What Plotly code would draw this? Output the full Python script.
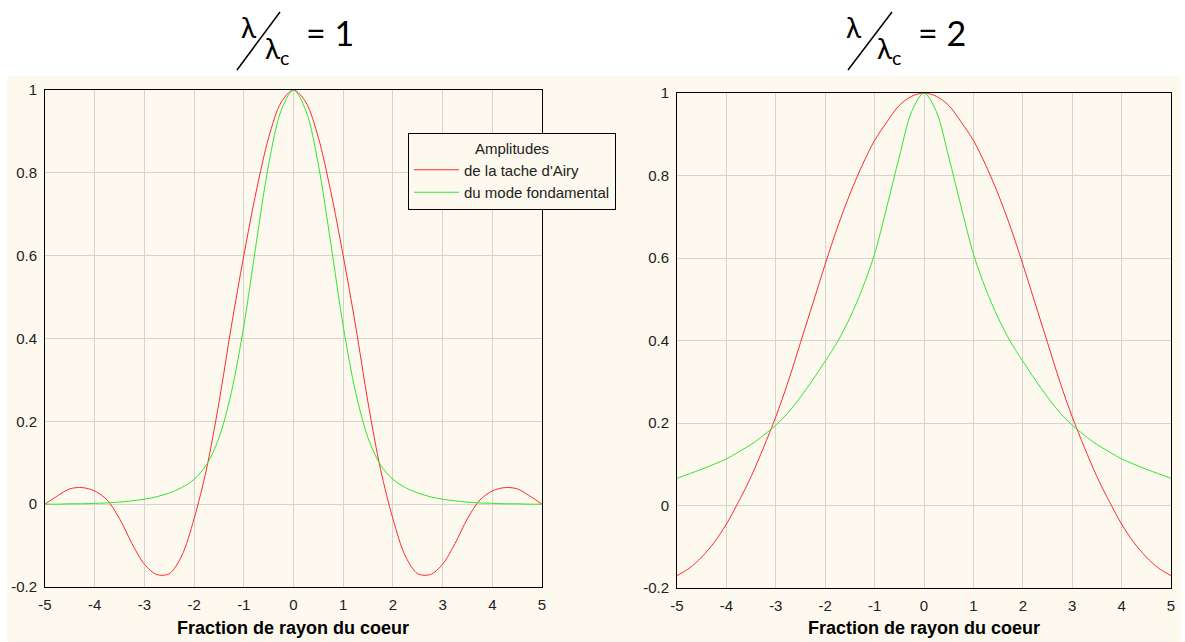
import plotly.graph_objects as go

# ---------------- data ----------------
x_vals = [-5.0, -4.75, -4.5, -4.25, -4.0, -3.75, -3.5, -3.25, -3.0, -2.75, -2.5,
          -2.25, -2.0, -1.75, -1.5, -1.25, -1.0, -0.75, -0.5, -0.25, 0.0,
          0.25, 0.5, 0.75, 1.0, 1.25, 1.5, 1.75, 2.0, 2.25, 2.5,
          2.75, 3.0, 3.25, 3.5, 3.75, 4.0, 4.25, 4.5, 4.75, 5.0]

# lambda / lambda_c = 1
airy_1 = [0.0, 0.02, 0.037, 0.04, 0.032, 0.01, -0.035, -0.095, -0.145, -0.17, -0.168,
          -0.125, -0.035, 0.085, 0.245, 0.43, 0.60, 0.755, 0.885, 0.97, 1.0,
          0.97, 0.885, 0.755, 0.60, 0.43, 0.245, 0.085, -0.035, -0.125, -0.168,
          -0.17, -0.145, -0.095, -0.035, 0.01, 0.032, 0.04, 0.037, 0.02, 0.0]
mode_1 = [0.0, 0.0, 0.001, 0.001, 0.002, 0.003, 0.005, 0.008, 0.012, 0.018, 0.027,
          0.04, 0.06, 0.095, 0.16, 0.27, 0.43, 0.63, 0.82, 0.95, 1.0,
          0.95, 0.82, 0.63, 0.43, 0.27, 0.16, 0.095, 0.06, 0.04, 0.027,
          0.018, 0.012, 0.008, 0.005, 0.003, 0.002, 0.001, 0.001, 0.0, 0.0]

# lambda / lambda_c = 2
airy_2 = [-0.17, -0.152, -0.125, -0.09, -0.045, 0.01, 0.07, 0.14, 0.215, 0.30, 0.395,
          0.49, 0.585, 0.675, 0.755, 0.825, 0.885, 0.93, 0.97, 0.992, 1.0,
          0.992, 0.97, 0.93, 0.885, 0.825, 0.755, 0.675, 0.585, 0.49, 0.395,
          0.30, 0.215, 0.14, 0.07, 0.01, -0.045, -0.09, -0.125, -0.152, -0.17]
mode_2 = [0.066, 0.077, 0.088, 0.1, 0.113, 0.13, 0.148, 0.17, 0.195, 0.225, 0.263,
          0.305, 0.35, 0.397, 0.455, 0.525, 0.61, 0.725, 0.845, 0.955, 1.0,
          0.955, 0.845, 0.725, 0.61, 0.525, 0.455, 0.397, 0.35, 0.305, 0.263,
          0.225, 0.195, 0.17, 0.148, 0.13, 0.113, 0.1, 0.088, 0.077, 0.066]

x_ticks = [-5, -4, -3, -2, -1, 0, 1, 2, 3, 4, 5]
x_tick_text = ["-5", "-4", "-3", "-2", "-1", "0", "1", "2", "3", "4", "5"]
y_ticks = [-0.2, 0, 0.2, 0.4, 0.6, 0.8, 1]
y_tick_text = ["-0.2", "0", "0.2", "0.4", "0.6", "0.8", "1"]

legend_title = "Amplitudes"
name_airy = "de la tache d'Airy"
name_mode = "du mode fondamental"
x_title = "Fraction de rayon du coeur"
ratio_labels = ["= 1", "= 2"]

# ---------------- layout helpers ----------------
W, H = 1185, 642
def px(x):
    return x / W
def py(y):
    return 1 - y / H

CREAM = "#fdf9ee"
GRID = "#d6d3cc"
RED = "#ff2a2a"
GREEN = "#2fe82f"
TICKFONT = dict(family="Liberation Sans, Arial", size=15, color="#222222")

fig = go.Figure()

fig.add_trace(go.Scatter(x=x_vals, y=airy_1, mode="lines", name=name_airy,
                         line=dict(color=RED, width=1, shape="spline", smoothing=0.9),
                         xaxis="x", yaxis="y"))
fig.add_trace(go.Scatter(x=x_vals, y=mode_1, mode="lines", name=name_mode,
                         line=dict(color=GREEN, width=1, shape="spline", smoothing=0.9),
                         xaxis="x", yaxis="y"))
fig.add_trace(go.Scatter(x=x_vals, y=airy_2, mode="lines", showlegend=False,
                         line=dict(color=RED, width=1, shape="spline", smoothing=0.9),
                         xaxis="x2", yaxis="y2"))
fig.add_trace(go.Scatter(x=x_vals, y=mode_2, mode="lines", showlegend=False,
                         line=dict(color=GREEN, width=1, shape="spline", smoothing=0.9),
                         xaxis="x2", yaxis="y2"))

axis_common = dict(showgrid=True, gridcolor=GRID, gridwidth=1, zeroline=False,
                   showline=True, linecolor="#000000", linewidth=1, mirror=True,
                   ticks="", tickfont=TICKFONT, automargin=False)

fig.update_layout(
    width=W, height=H, autosize=False,
    margin=dict(l=0, r=0, t=0, b=0, pad=0),
    paper_bgcolor="white",
    plot_bgcolor=CREAM,
    xaxis=dict(domain=[px(45), px(542)], range=[-5, 5], tickvals=x_ticks,
               ticktext=x_tick_text, anchor="y", ticklabelstandoff=4, **axis_common),
    yaxis=dict(domain=[py(587), py(90)], range=[-0.2, 1], tickvals=y_ticks,
               ticktext=y_tick_text, anchor="x", ticklabelstandoff=4, **axis_common),
    xaxis2=dict(domain=[px(677), px(1171)], range=[-5, 5], tickvals=x_ticks,
                ticktext=x_tick_text, anchor="y2", ticklabelstandoff=4, **axis_common),
    yaxis2=dict(domain=[py(588), py(93)], range=[-0.2, 1], tickvals=y_ticks,
                ticktext=y_tick_text, anchor="x2", ticklabelstandoff=4, **axis_common),
    showlegend=True,
    legend=dict(x=px(408), y=py(133), xanchor="left", yanchor="top",
                bgcolor=CREAM, bordercolor="#000000", borderwidth=1,
                font=dict(family="Liberation Sans, Arial", size=15, color="#222222"),
                title=dict(text=legend_title, side="top center",
                           font=dict(family="Liberation Sans, Arial", size=15, color="#222222")),
                tracegroupgap=0, itemwidth=45),
)

# cream background band
fig.add_shape(type="rect", xref="paper", yref="paper", x0=px(7), x1=px(1181),
              y0=0, y1=py(76), fillcolor=CREAM, line=dict(width=0), layer="below")

# axis titles
for cx in (293, 924):
    fig.add_annotation(x=px(cx), y=py(628), xref="paper", yref="paper",
                       text="<b>" + x_title + "</b>", showarrow=False,
                       xanchor="center", yanchor="middle",
                       font=dict(family="Liberation Sans, Arial", size=18, color="#000000"))

# fraction titles  lambda / lambda_c = n
TFONT = "Lato, Noto Sans, sans-serif"
specs = [
    dict(l1=(249, 27), s=((237, 70), (280, 12)), l2=(277, 50), eq=(330, 32), lab=ratio_labels[0]),
    dict(l1=(854, 27), s=((848, 70), (892, 12)), l2=(889, 50), eq=(942, 32), lab=ratio_labels[1]),
]
for sp in specs:
    fig.add_annotation(x=px(sp["l1"][0]), y=py(sp["l1"][1]), xref="paper", yref="paper",
                       text="λ", showarrow=False, xanchor="center", yanchor="middle",
                       font=dict(family=TFONT, size=28, color="#000000"))
    fig.add_annotation(x=px(sp["l2"][0]), y=py(sp["l2"][1]), xref="paper", yref="paper",
                       text="λ<sub>c</sub>", showarrow=False, xanchor="center", yanchor="middle",
                       font=dict(family=TFONT, size=28, color="#000000"))
    fig.add_annotation(x=px(sp["eq"][0]), y=py(sp["eq"][1]), xref="paper", yref="paper",
                       text=sp["lab"], showarrow=False, xanchor="center", yanchor="middle",
                       font=dict(family=TFONT, size=34, color="#000000"))
    (x0, y0), (x1, y1) = sp["s"]
    fig.add_shape(type="line", xref="paper", yref="paper", x0=px(x0), y0=py(y0),
                  x1=px(x1), y1=py(y1), line=dict(color="#000000", width=1.5))

fig.write_html("out.html", config={"displayModeBar": False},
               post_script="document.body.style.margin='0';document.body.style.overflow='hidden';")
